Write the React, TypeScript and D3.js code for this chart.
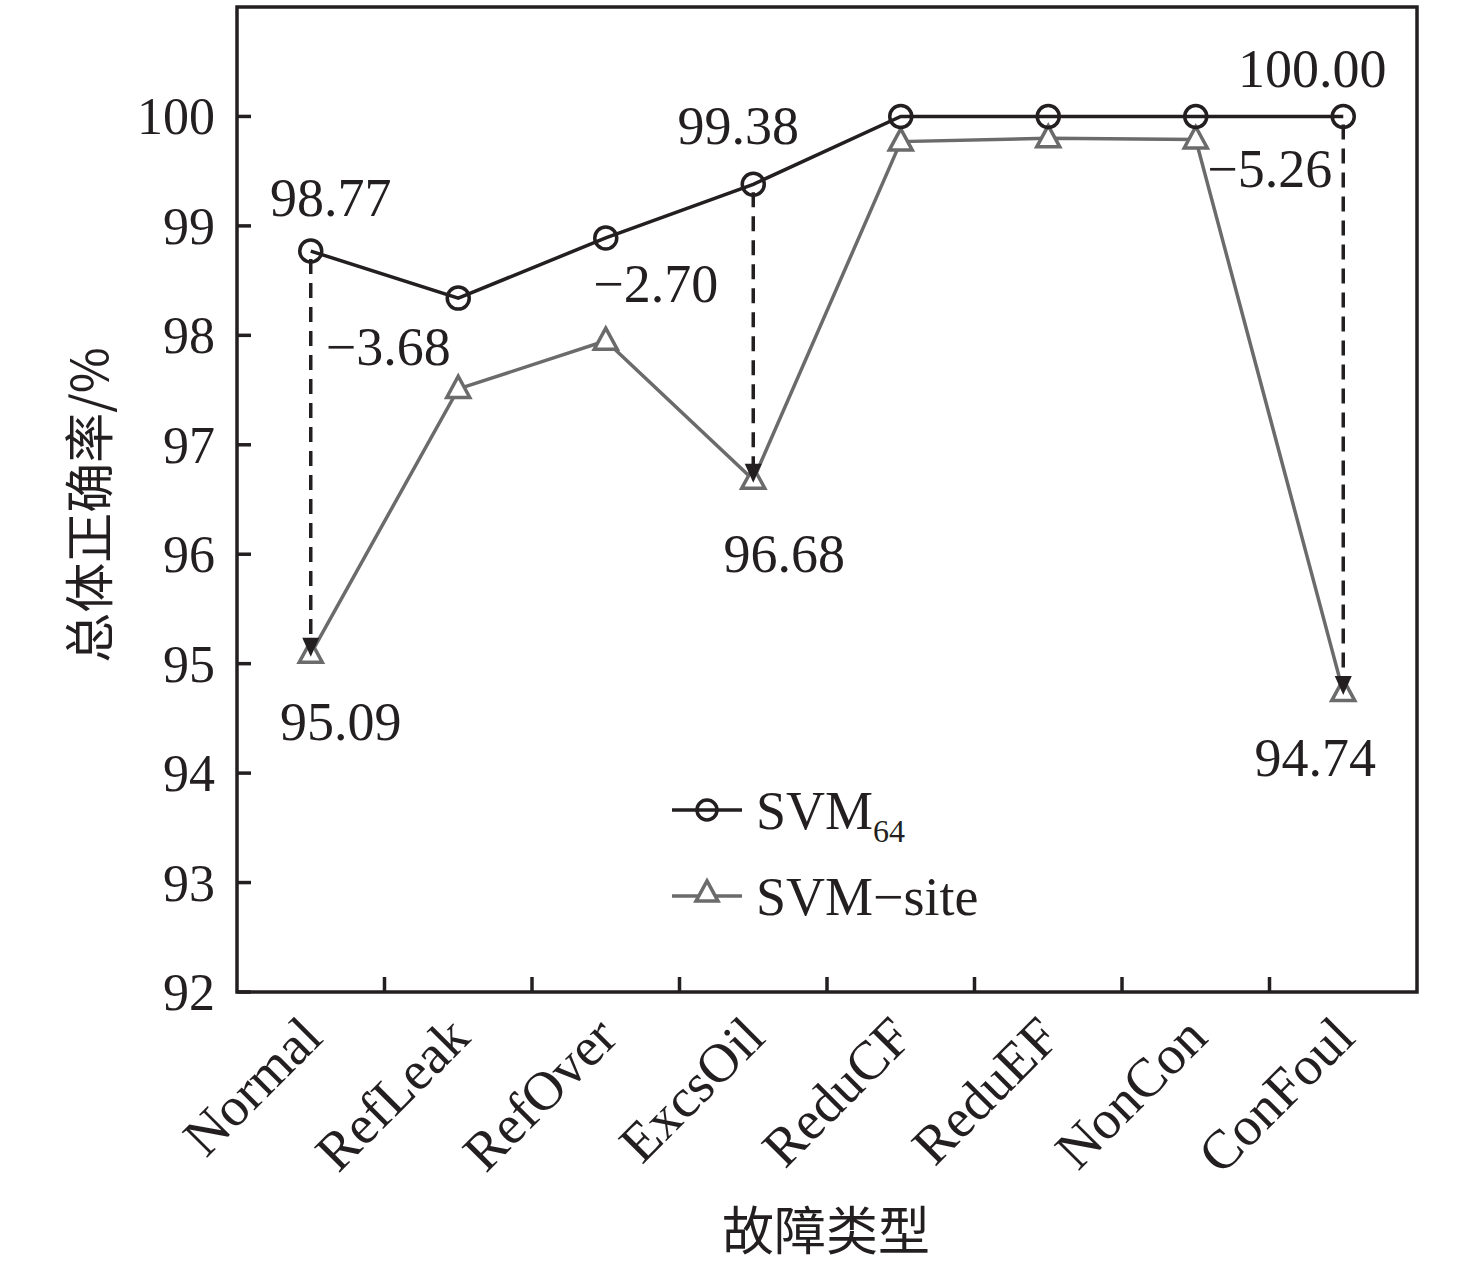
import React from "react";
import * as d3 from "d3";

const categories = ["Normal", "RefLeak", "RefOver", "ExcsOil", "ReduCF", "ReduEF", "NonCon", "ConFoul"];
const svm64 = [98.77, 98.34, 98.89, 99.38, 100.0, 100.0, 100.0, 100.0];
const svmSite = [95.09, 97.51, 97.95, 96.68, 99.77, 99.8, 99.79, 94.74];
const yTicks = [92, 93, 94, 95, 96, 97, 98, 99, 100];
const diffCats = ["Normal", "ExcsOil", "ConFoul"];
const diffLabels = ["\u22123.68", "\u22122.70", "\u22125.26"];

const W = 1476;
const H = 1265;
const L = 237, R = 1417, T = 7, B = 992;
const INK = "#231f20";
const GREY = "#6b6b6b";
const SERIF = "'Liberation Serif', 'Times New Roman', serif";
const CJK = "'Noto Sans CJK SC', sans-serif";

export default function App() {
  const x = d3.scaleBand<string>().domain(categories).range([L, R]).padding(0);
  const y = d3.scaleLinear().domain([92, 101]).range([B, T]);
  const cx = (c: string) => (x(c) as number) + x.bandwidth() / 2;

  const line = d3
    .line<number>()
    .x((_, i) => cx(categories[i]))
    .y((v) => y(v));

  const triPath = (px: number, py: number, s = 23) => {
    const h = s * 0.92;
    return `M${px},${py - h * 0.6}L${px + s / 2},${py + h * 0.4}L${px - s / 2},${py + h * 0.4}Z`;
  };

  const bandEdges = categories.slice(1).map((c) => x(c) as number);

  const topLabel = (i: number, dx: number, dy: number) => (
    <text
      key={"t" + i}
      x={cx(categories[i]) + dx}
      y={y(svm64[i]) + dy}
      textAnchor="middle"
      fontFamily={SERIF}
      fontSize={54}
      fill={INK}
    >
      {svm64[i].toFixed(2)}
    </text>
  );
  const botLabel = (i: number, dx: number, dy: number) => (
    <text
      key={"b" + i}
      x={cx(categories[i]) + dx}
      y={y(svmSite[i]) + dy}
      textAnchor="middle"
      fontFamily={SERIF}
      fontSize={54}
      fill={INK}
    >
      {svmSite[i].toFixed(2)}
    </text>
  );

  const diffPos = [
    { dx: 15, y: 365 },
    { dx: -160, y: 302 },
    { dx: -136, y: 187 },
  ];

  return (
    <svg width={W} height={H} style={{ position: "absolute", left: 0, top: 0, background: "#fff" }}>
      <rect x={0} y={0} width={W} height={H} fill="#fff" />

      <rect x={L} y={T} width={R - L} height={B - T} fill="none" stroke={INK} strokeWidth={3.5} />
      {yTicks.map((t) => (
        <g key={"yt" + t}>
          <line x1={L} x2={L + 14} y1={y(t)} y2={y(t)} stroke={INK} strokeWidth={3.5} />
          <text
            x={L - 22}
            y={y(t) + 18}
            textAnchor="end"
            fontFamily={SERIF}
            fontSize={52}
            fill={INK}
          >
            {t}
          </text>
        </g>
      ))}
      {bandEdges.map((e, i) => (
        <line key={"xt" + i} x1={e} x2={e} y1={B} y2={B - 15} stroke={INK} strokeWidth={3.5} />
      ))}
      {categories.map((c) => (
        <text
          key={"xl" + c}
          transform={`translate(${cx(c) + 14},${B + 48}) rotate(-45)`}
          textAnchor="end"
          fontFamily={SERIF}
          fontSize={55}
          fill={INK}
        >
          {c}
        </text>
      ))}

      <text
        transform={`translate(${108},${505}) rotate(-90)`}
        textAnchor="middle"
        fontFamily={CJK}
        fontSize={50}
        fill={INK}
      >
        总体正确率/%
      </text>
      <text x={826} y={1250} textAnchor="middle" fontFamily={CJK} fontSize={52} fill={INK}>
        故障类型
      </text>

      <path d={line(svmSite) || ""} fill="none" stroke={GREY} strokeWidth={3.5} />
      <path d={line(svm64) || ""} fill="none" stroke={INK} strokeWidth={3.5} />

      {diffCats.map((c) => {
        const i = categories.indexOf(c);
        const px = cx(c);
        const y1 = y(svm64[i]) + 8;
        const tip = y(svmSite[i]) + 3;
        return (
          <line
            key={"dl" + c}
            x1={px}
            x2={px}
            y1={y1}
            y2={tip - 17}
            stroke={INK}
            strokeWidth={3.5}
            strokeDasharray="15 9"
          />
        );
      })}

      {svmSite.map((v, i) => (
        <path
          key={"tri" + i}
          d={triPath(cx(categories[i]), y(v))}
          fill="#fff"
          stroke={GREY}
          strokeWidth={3.5}
          strokeLinejoin="miter"
        />
      ))}
      {svm64.map((v, i) => (
        <circle
          key={"c" + i}
          cx={cx(categories[i])}
          cy={y(v)}
          r={11}
          fill="none"
          stroke={INK}
          strokeWidth={3.5}
        />
      ))}
      {diffCats.map((c) => {
        const i = categories.indexOf(c);
        const px = cx(c);
        const tip = y(svmSite[i]) + 3;
        return (
          <path
            key={"ah" + c}
            d={`M${px},${tip}L${px - 8.5},${tip - 19}L${px + 8.5},${tip - 19}Z`}
            fill={INK}
          />
        );
      })}

      {topLabel(0, 20, -35)}
      {topLabel(3, -15, -40)}
      {topLabel(7, -31, -29)}
      {botLabel(0, 30, 86)}
      {botLabel(3, 31, 92)}
      {botLabel(7, -28, 84)}
      {diffCats.map((c, k) => (
        <text
          key={"dt" + c}
          x={cx(c) + diffPos[k].dx}
          y={diffPos[k].y}
          textAnchor="start"
          fontFamily={SERIF}
          fontSize={54}
          fill={INK}
        >
          {diffLabels[k]}
        </text>
      ))}

      <g>
        <line x1={672} x2={742} y1={810} y2={810} stroke={INK} strokeWidth={3.5} />
        <circle cx={707} cy={810} r={10} fill="none" stroke={INK} strokeWidth={3.5} />
        <text x={756} y={829} fontFamily={SERIF} fontSize={54} fill={INK}>
          SVM
          <tspan fontSize={32} dy={13}>
            64
          </tspan>
        </text>
        <line x1={672} x2={742} y1={896} y2={896} stroke={GREY} strokeWidth={3.5} />
        <path d={triPath(707, 893, 22)} fill="#fff" stroke={GREY} strokeWidth={3.5} />
        <text x={756} y={915} fontFamily={SERIF} fontSize={54} fill={INK}>
          SVM{"\u2212"}site
        </text>
      </g>
    </svg>
  );
}
